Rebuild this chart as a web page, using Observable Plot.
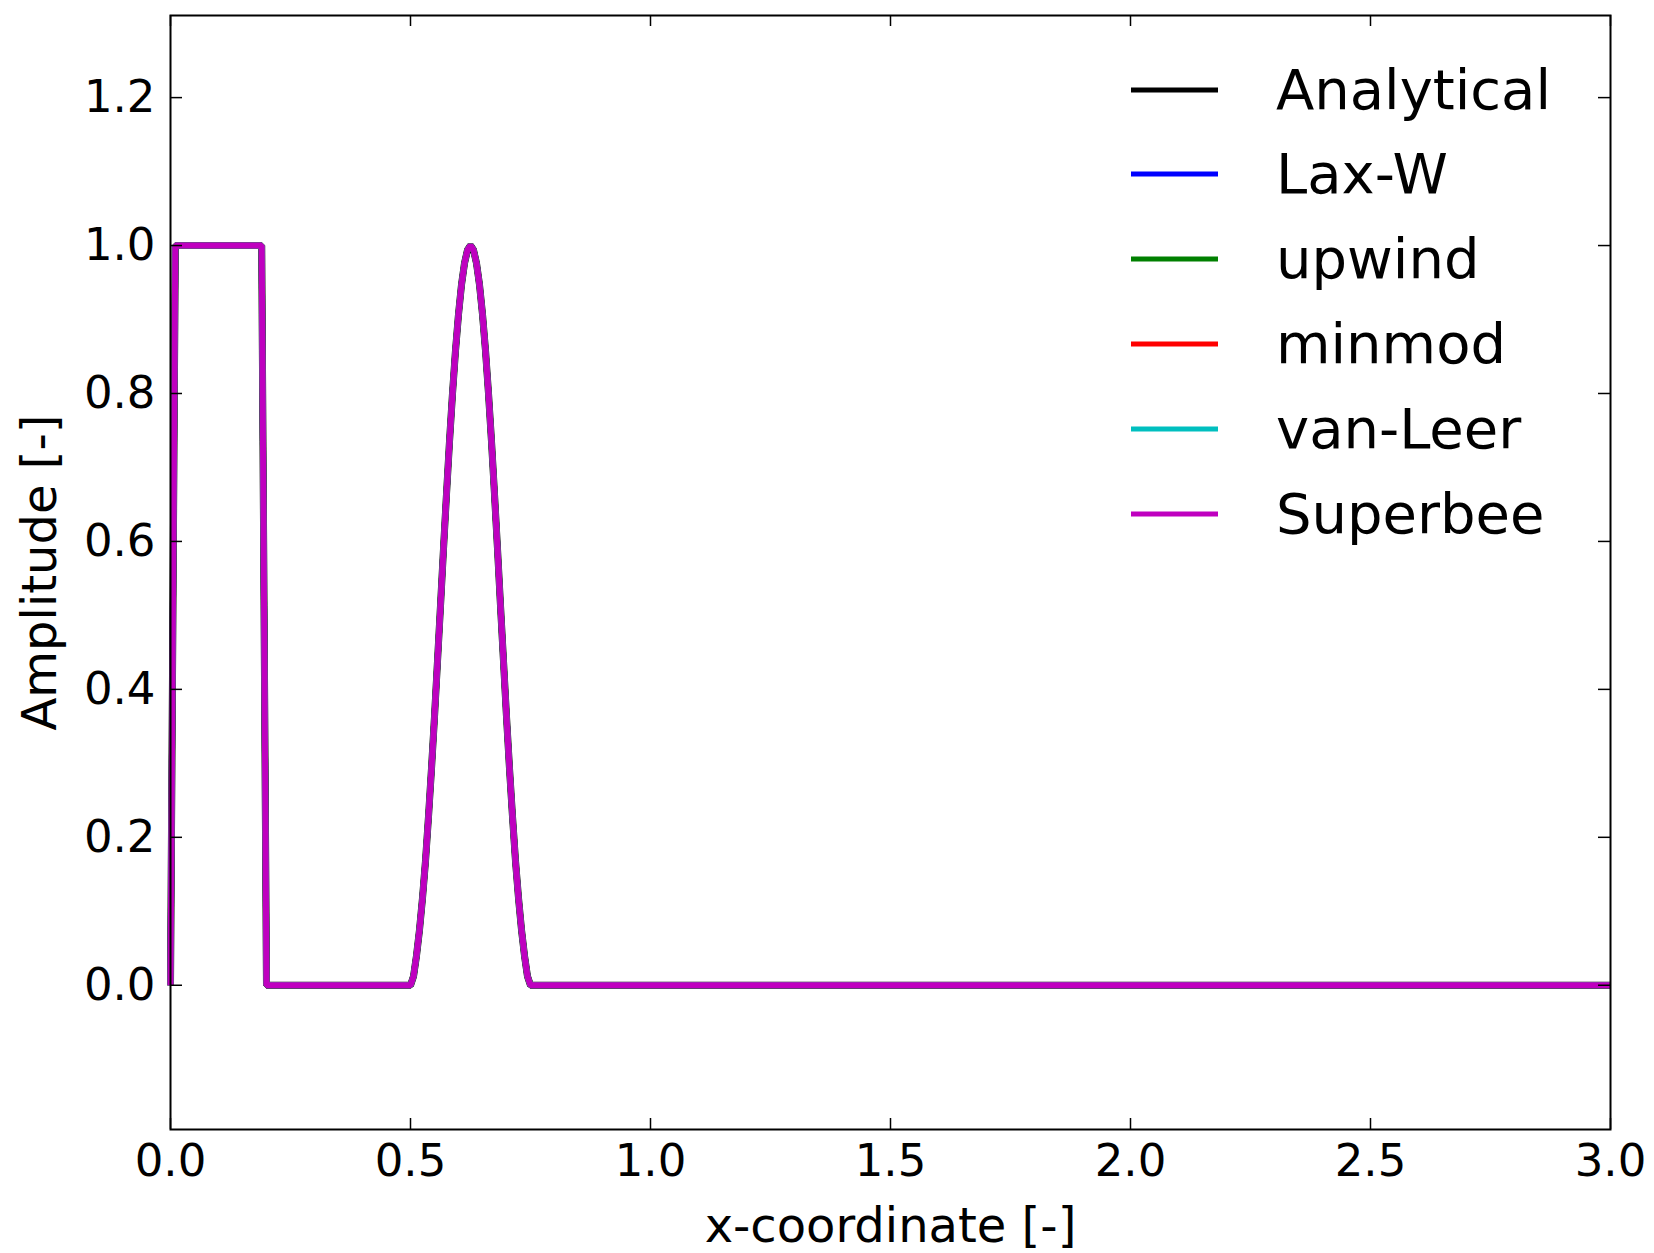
<!DOCTYPE html>
<html>
<head>
<meta charset="utf-8">
<script src="https://cdn.jsdelivr.net/npm/d3@7"></script>
<script src="https://cdn.jsdelivr.net/npm/@observablehq/plot@0.6"></script>
<style>
  html, body { margin: 0; padding: 0; background: #fff; }
  #wrap { position: relative; width: 1654px; height: 1253px; font-family: "DejaVu Sans", sans-serif; }
  #legend { position: absolute; left: 1131px; top: 47.3px; }
  .row { display: flex; align-items: center; height: 84.8px; }
  .row svg { display: block; }
  .row span { margin-left: 58px; font-size: 56px; line-height: 1; color: #000; white-space: nowrap; }
</style>
</head>
<body>
<div id="wrap"><div id="legend"></div></div>
<script>
// ---- data ----
const seriesNames = ["Analytical", "Lax-W", "upwind", "minmod", "van-Leer", "Superbee"];
const seriesColors = ["#000000", "#0000ff", "#008000", "#ff0000", "#00bfbf", "#bf00bf"];

const xCoord = [0, 0.01, 0.19, 0.2,
  0.5, 0.50625, 0.5125, 0.51875, 0.525, 0.53125, 0.5375, 0.54375, 0.55, 0.55625,
  0.5625, 0.56875, 0.575, 0.58125, 0.5875, 0.59375, 0.6, 0.60625, 0.6125, 0.61875,
  0.625, 0.63125, 0.6375, 0.64375, 0.65, 0.65625, 0.6625, 0.66875, 0.675, 0.68125,
  0.6875, 0.69375, 0.7, 0.70625, 0.7125, 0.71875, 0.725, 0.73125, 0.7375, 0.74375,
  0.75, 3.0];

const analytical = [0, 1, 1, 0,
  0, 0.012, 0.04, 0.075, 0.118, 0.168, 0.228, 0.293, 0.363, 0.438,
  0.513, 0.59, 0.664, 0.735, 0.8, 0.858, 0.907, 0.947, 0.976, 0.994,
  1.0, 0.994, 0.976, 0.947, 0.907, 0.858, 0.8, 0.735, 0.664, 0.59,
  0.513, 0.438, 0.363, 0.293, 0.228, 0.168, 0.118, 0.075, 0.04, 0.012,
  0, 0];
const laxW = [0, 1, 1, 0,
  0, 0.012, 0.04, 0.075, 0.118, 0.168, 0.228, 0.293, 0.363, 0.438,
  0.513, 0.59, 0.664, 0.735, 0.8, 0.858, 0.907, 0.947, 0.976, 0.994,
  1.0, 0.994, 0.976, 0.947, 0.907, 0.858, 0.8, 0.735, 0.664, 0.59,
  0.513, 0.438, 0.363, 0.293, 0.228, 0.168, 0.118, 0.075, 0.04, 0.012,
  0, 0];
const upwind = [0, 1, 1, 0,
  0, 0.012, 0.04, 0.075, 0.118, 0.168, 0.228, 0.293, 0.363, 0.438,
  0.513, 0.59, 0.664, 0.735, 0.8, 0.858, 0.907, 0.947, 0.976, 0.994,
  1.0, 0.994, 0.976, 0.947, 0.907, 0.858, 0.8, 0.735, 0.664, 0.59,
  0.513, 0.438, 0.363, 0.293, 0.228, 0.168, 0.118, 0.075, 0.04, 0.012,
  0, 0];
const minmod = [0, 1, 1, 0,
  0, 0.012, 0.04, 0.075, 0.118, 0.168, 0.228, 0.293, 0.363, 0.438,
  0.513, 0.59, 0.664, 0.735, 0.8, 0.858, 0.907, 0.947, 0.976, 0.994,
  1.0, 0.994, 0.976, 0.947, 0.907, 0.858, 0.8, 0.735, 0.664, 0.59,
  0.513, 0.438, 0.363, 0.293, 0.228, 0.168, 0.118, 0.075, 0.04, 0.012,
  0, 0];
const vanLeer = [0, 1, 1, 0,
  0, 0.012, 0.04, 0.075, 0.118, 0.168, 0.228, 0.293, 0.363, 0.438,
  0.513, 0.59, 0.664, 0.735, 0.8, 0.858, 0.907, 0.947, 0.976, 0.994,
  1.0, 0.994, 0.976, 0.947, 0.907, 0.858, 0.8, 0.735, 0.664, 0.59,
  0.513, 0.438, 0.363, 0.293, 0.228, 0.168, 0.118, 0.075, 0.04, 0.012,
  0, 0];
const superbee = [0, 1, 1, 0,
  0, 0.012, 0.04, 0.075, 0.118, 0.168, 0.228, 0.293, 0.363, 0.438,
  0.513, 0.59, 0.664, 0.735, 0.8, 0.858, 0.907, 0.947, 0.976, 0.994,
  1.0, 0.994, 0.976, 0.947, 0.907, 0.858, 0.8, 0.735, 0.664, 0.59,
  0.513, 0.438, 0.363, 0.293, 0.228, 0.168, 0.118, 0.075, 0.04, 0.012,
  0, 0];

const xTickValues = [0, 0.5, 1.0, 1.5, 2.0, 2.5, 3.0];
const yTickValues = [0, 0.2, 0.4, 0.6, 0.8, 1.0, 1.2];
const xLabel = "x-coordinate [-]";
const yLabel = "Amplitude [-]";

// ---- build ----
const seriesValues = [analytical, laxW, upwind, minmod, vanLeer, superbee];
const W = 1654, H = 1253;
const mL = 170, mR = 44, mT = 15, mB = 124;
const plotW = W - mL - mR, plotH = H - mT - mB;

const lineMarks = seriesNames.map((name, i) =>
  Plot.line(xCoord.map((x, j) => ({x, y: seriesValues[i][j], series: name})),
    {x: "x", y: "y", stroke: seriesColors[i], strokeWidth: i === 0 ? 7 : 6, strokeLinejoin: "miter", strokeLinecap: "butt"})
);

const chart = Plot.plot({
  width: W, height: H,
  marginLeft: mL, marginRight: mR, marginTop: mT, marginBottom: mB,
  style: {fontFamily: "DejaVu Sans, sans-serif", fontSize: "45px", background: "white", color: "black"},
  x: {domain: [0, 3]},
  y: {domain: [-0.195, 1.311]},
  marks: [
    ...lineMarks,
    Plot.tickX(xTickValues, {x: d => d, insetTop: plotH - 11, stroke: "black", strokeWidth: 1.5}),
    Plot.tickX(xTickValues, {x: d => d, insetBottom: plotH - 11, stroke: "black", strokeWidth: 1.5}),
    Plot.tickY(yTickValues, {y: d => d, insetRight: plotW - 12, stroke: "black", strokeWidth: 1.5}),
    Plot.tickY(yTickValues, {y: d => d, insetLeft: plotW - 12, stroke: "black", strokeWidth: 1.5}),
    Plot.frame({stroke: "black", strokeWidth: 2}),
    Plot.axisX(xTickValues, {tickSize: 0, tickPadding: 15, tickFormat: d3.format(".1f"), fontSize: 45, label: null}),
    Plot.axisY(yTickValues, {tickSize: 0, tickPadding: 15, tickFormat: d3.format(".1f"), fontSize: 45, label: null}),
    Plot.text([xLabel], {text: d => d, frameAnchor: "bottom", dy: 97, fontSize: 48, lineAnchor: "middle", textAnchor: "middle"}),
    Plot.text([yLabel], {text: d => d, frameAnchor: "left", dx: -130, rotate: -90, fontSize: 48, lineAnchor: "middle", textAnchor: "middle"})
  ]
});
const wrap = document.getElementById("wrap");
wrap.insertBefore(chart, wrap.firstChild);

// legend (inside the plot, upper right)
const legend = document.getElementById("legend");
seriesNames.forEach((name, i) => {
  const row = document.createElement("div");
  row.className = "row";
  row.innerHTML = `<svg width="87" height="10"><line x1="0" x2="87" y1="5" y2="5" stroke="${seriesColors[i]}" stroke-width="5"/></svg><span>${name}</span>`;
  legend.appendChild(row);
});
</script>
</body>
</html>
